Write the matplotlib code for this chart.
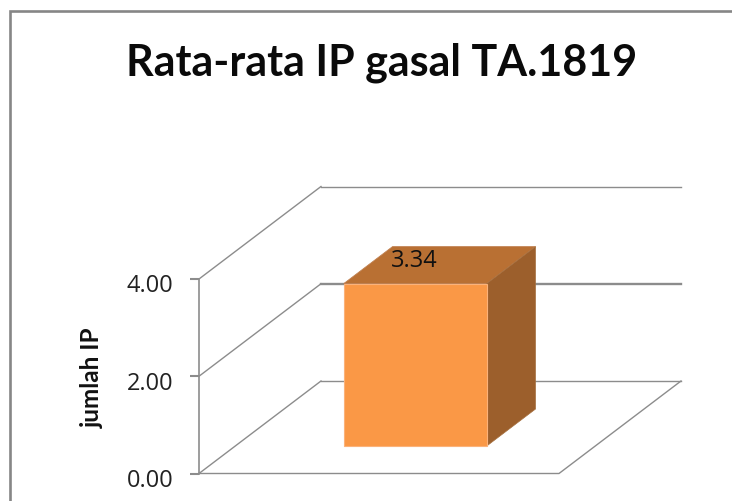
import matplotlib
matplotlib.use("Agg")
import matplotlib.pyplot as plt
from matplotlib.lines import Line2D
from matplotlib.patches import Polygon
from matplotlib.transforms import ScaledTranslation

title = "Rata-rata IP gasal TA.1819"
y_label = "jumlah IP"
categories = ["IP"]
values = [3.34]
y_ticks = [0, 2, 4]
y_tick_labels = ["0.00", "2.00", "4.00"]

W, H = 732, 502
fig = plt.figure(figsize=(W / 100, H / 100), dpi=100, facecolor="white")
# front plane of the pseudo-3D box, pixel extents
L, R, B, T = 199, 559, 474.5, 280
ax = fig.add_axes([L / W, 1 - B / H, (R - L) / W, (B - T) / H])
ax.set_xlim(-0.5, 0.5)
ax.set_ylim(0, 4)
ax.patch.set_visible(False)
for s in ax.spines.values():
    s.set_visible(False)

GRID = "#8c8c8c"
# shear per unit of depth, in data units
DX = 122 / (R - L)
DY = 92.5 / ((B - T) / 4)


def sheared(x, y, d):
    return (x + d * DX, y + d * DY)


for t in y_ticks:
    ax.plot([-0.5, -0.5 + DX], [t, t + DY], color=GRID, lw=1.0, clip_on=False, zorder=1)
    ax.plot([-0.5 + DX, 0.5 + DX], [t + DY, t + DY], color=GRID,
            lw=1.7 if t == 2 else 1.0, clip_on=False, zorder=1)
ax.plot([-0.5, -0.5], [0, 4], color=GRID, lw=1.2, clip_on=False, zorder=1)
ax.plot([-0.5, 0.5, 0.5 + DX], [0, 0, DY], color=GRID, lw=1.0, clip_on=False, zorder=1)

ax.set_yticks(y_ticks, y_tick_labels)
ax.set_xticks([])
ax.tick_params(axis="y", length=6.5, width=1.5, color=GRID, pad=12, labelsize=17,
               labelcolor="#222222")
for lab in ax.get_yticklabels():
    lab.set_fontfamily("Open Sans")
    lab.set_transform(lab.get_transform() + ScaledTranslation(0, -2.5 / 72, fig.dpi_scale_trans))

ax.set_ylabel(y_label, fontsize=17.5, family="Lato", fontweight="bold", color="#111111",
              va="center", ha="center")
ax.yaxis.set_label_coords(-0.297, 0.5)

# bar geometry (category slot centred at 0, depth range inside the box)
half_w = 0.1986
d0, d1 = 0.297, 0.697
for i, v in enumerate(values):
    x0, x1 = i - half_w, i + half_w
    front = [sheared(x0, 0, d0), sheared(x1, 0, d0), sheared(x1, v, d0), sheared(x0, v, d0)]
    top = [sheared(x0, v, d0), sheared(x1, v, d0), sheared(x1, v, d1), sheared(x0, v, d1)]
    side = [sheared(x1, 0, d0), sheared(x1, 0, d1), sheared(x1, v, d1), sheared(x1, v, d0)]
    ax.add_patch(Polygon(top, closed=True, fc="#B97033", ec="#C08050", lw=0.6, zorder=3, clip_on=False))
    ax.add_patch(Polygon(side, closed=True, fc="#9C5F2C", ec="#A6703F", lw=0.5, zorder=3, clip_on=False))
    ax.add_patch(Polygon(front, closed=True, fc="#FA9846", ec="#FBB27A", lw=0.8, zorder=4, clip_on=False))
    ax.annotate(f"{v:.2f}", xy=sheared(x0, v, d1), xytext=(-1.5, -1), textcoords="offset points",
                ha="left", va="top", fontsize=17, family="Open Sans",
                color="#111111", zorder=5, annotation_clip=False)

fig.text(382 / W, 1 - 63 / H, title, ha="center", va="center", fontsize=31,
         family="Lato", fontweight="bold", color="#0a0a0a")

fig.add_artist(Line2D([9.5 / W, 9.5 / W, 1], [0, 1 - 11.5 / H, 1 - 11.5 / H],
                      transform=fig.transFigure, color="#868686", lw=1.9,
                      solid_joinstyle="miter"))

fig.savefig("out.png", dpi=100, facecolor="white")
